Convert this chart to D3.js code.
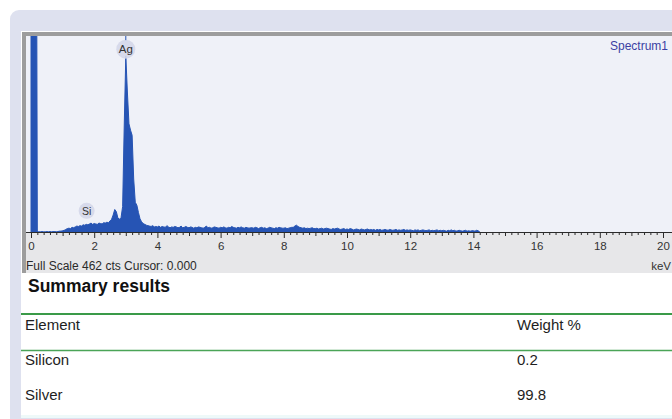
<!DOCTYPE html>
<html lang="en">
<head>
	<meta charset="UTF-8">
	<title>Spectrum1 - Summary results</title>
	<script src="https://cdn.jsdelivr.net/npm/d3@7"></script>
	<style>
		body {
			margin: 0;
			background: #fff;
		}

		svg {
			display: block;
			font-family: "Liberation Sans", Arial, sans-serif;
		}
	</style>
</head>

<body>

	<div id="chart"></div>

<script>

	// channel width of the spectrum (keV)
	var channelWidth = 0.05;

	// counts per channel, one row per keV (0.00 .. 0.95, 1.00 .. 1.95, ...)
	var counts = [
		1500, 1500, 1500, 1500, 0, 0, 0, 1, 0, 0, 1, 0, 1, 0, 1, 1, 0, 1, 2, 2,
		3, 4, 6, 8, 9, 8, 11, 10, 12, 14, 13, 15, 14, 17, 16, 18, 17, 19, 21, 18,
		20, 19, 18, 21, 20, 19, 22, 21, 23, 22, 26, 30, 40, 53, 48, 33, 30, 34, 60, 250,
		415, 330, 255, 240, 228, 125, 70, 63, 46, 31, 24, 20, 18, 16, 15, 14, 13, 15, 12, 13,
		12, 14, 11, 13, 12, 11, 15, 12, 10, 12, 11, 13, 12, 10, 11, 14, 10, 11, 13, 11,
		10, 12, 11, 9, 11, 10, 12, 11, 10, 9, 11, 14, 10, 11, 9, 10, 12, 11, 10, 9,
		11, 10, 12, 10, 9, 11, 10, 13, 11, 10, 9, 11, 10, 12, 10, 9, 11, 10, 9, 10,
		10, 9, 11, 10, 8, 10, 11, 9, 10, 8, 9, 11, 10, 9, 8, 10, 9, 11, 10, 9,
		9, 10, 8, 9, 10, 11, 11, 14, 16, 13, 11, 10, 9, 10, 8, 9, 8, 9, 10, 8,
		8, 9, 7, 8, 9, 7, 8, 9, 8, 7, 6, 8, 7, 8, 9, 7, 6, 7, 8, 6,
		7, 6, 8, 7, 5, 6, 7, 6, 5, 7, 6, 5, 6, 7, 5, 6, 5, 6, 4, 6,
		5, 6, 4, 5, 6, 5, 4, 6, 5, 4, 5, 6, 4, 5, 4, 5, 6, 4, 5, 4,
		5, 4, 3, 5, 4, 5, 3, 4, 5, 4, 3, 4, 5, 3, 4, 3, 4, 5, 3, 4,
		3, 4, 3, 2, 4, 3, 5, 3, 4, 2, 3, 4, 3, 2, 3, 4, 2, 3, 2, 3,
		3, 2, 4, 3, 0
	];

	var fullScale = 462;
	var keVMax = 20;
	var majorTicks = [0, 2, 4, 6, 8, 10, 12, 14, 16, 18, 20];

	// element markers on the spectrum
	var peakNames = ["Si", "Ag"];
	var peakKeV = [1.76, 3.0];
	var peakLabelCts = [50, 431];

	// summary table
	var tableTitle = "Summary results";
	var columns = ["Element", "Weight %"];
	var elements = ["Silicon", "Silver"];
	var weights = ["0.2", "99.8"];

	var W = 672, H = 419;
	var plotLeft = 26, plotTop = 36, axisY = 232;

	var svg = d3.select("#chart").append("svg")
		.attr("width", W)
		.attr("height", H);

	// card and frame
	svg.append("rect").attr("x", 10).attr("y", 10).attr("width", 700).attr("height", 430)
		.attr("rx", 9).attr("fill", "#dee1ef");
	svg.append("rect").attr("x", 21).attr("y", 31).attr("width", 660).attr("height", 384)
		.attr("fill", "#fff");
	svg.append("rect").attr("x", 22).attr("y", 32).attr("width", 660).attr("height", 241)
		.attr("fill", "#9d9d9d");
	svg.append("rect").attr("x", plotLeft).attr("y", plotTop).attr("width", W - plotLeft).attr("height", axisY - plotTop)
		.attr("fill", "#eff1f8");
	svg.append("rect").attr("x", plotLeft).attr("y", axisY).attr("width", W - plotLeft).attr("height", 41)
		.attr("fill", "#e7e7e9");
	svg.append("rect").attr("x", 21).attr("y", 415).attr("width", 660).attr("height", 3)
		.attr("fill", "#eef9f9");

	// scales
	var x = d3.scaleLinear().domain([0, keVMax]).range([31, 663]);
	var y = d3.scaleLinear().domain([0, fullScale]).range([axisY, plotTop]);

	svg.append("clipPath").attr("id", "plotClip")
		.append("rect").attr("x", plotLeft).attr("y", plotTop)
		.attr("width", W - plotLeft).attr("height", axisY - plotTop);

	var area = d3.area()
		.x(function (d, i) { return x(i * channelWidth); })
		.y0(y(0))
		.y1(function (d) { return y(d); });

	svg.append("path")
		.datum(counts)
		.attr("clip-path", "url(#plotClip)")
		.attr("fill", "#2654b4")
		.attr("stroke", "#2654b4")
		.attr("stroke-width", 1)
		.attr("stroke-linejoin", "round")
		.attr("d", area);

	// axis with minor ticks every 0.2 keV
	var tickValues = d3.range(0, keVMax * 5 + 1).map(function (i) { return i / 5; });
	var axis = d3.axisBottom(x)
		.tickValues(tickValues)
		.tickSize(3)
		.tickPadding(5)
		.tickFormat(function (d) {
			var r = Math.round(d * 5) / 5;
			return majorTicks.indexOf(r) >= 0 ? String(r) : "";
		});

	var gAxis = svg.append("g")
		.attr("transform", "translate(0," + axisY + ")")
		.call(axis);

	gAxis.select(".domain").attr("stroke", "#2b2b2b").attr("d", "M" + plotLeft + ",0.5H" + W);
	gAxis.selectAll(".tick line")
		.attr("stroke", "#2b2b2b")
		.attr("y2", function (d) {
			var r = Math.round(d * 5) / 5;
			if (majorTicks.indexOf(r) >= 0) return 6;
			if (Number.isInteger(r)) return 4;
			return 3;
		});
	gAxis.selectAll(".tick text")
		.attr("y", 10)
		.attr("font-size", 11.5)
		.attr("font-family", "Liberation Sans, Arial, sans-serif")
		.attr("fill", "#333");

	svg.append("text").attr("x", 671).attr("y", 270)
		.attr("text-anchor", "end").attr("font-size", 11.5).attr("fill", "#333")
		.text("keV");

	svg.append("text").attr("x", 26).attr("y", 269.5)
		.attr("font-size", 12).attr("fill", "#2a2a2a")
		.text("Full Scale " + fullScale + " cts Cursor: 0.000");

	svg.append("text").attr("x", 668).attr("y", 49.5)
		.attr("text-anchor", "end").attr("font-size", 12).attr("fill", "#3b3fa3")
		.text("Spectrum1");

	// peak markers
	var marks = svg.selectAll(".peak")
		.data(peakNames)
		.enter().append("g")
		.attr("class", "peak")
		.attr("transform", function (d, i) {
			return "translate(" + x(peakKeV[i]) + "," + y(peakLabelCts[i]) + ")";
		});

	marks.append("circle")
		.attr("r", function (d) { return d === "Ag" ? 9.5 : 8; })
		.attr("fill", "#d4d7e9")
		.attr("fill-opacity", 0.9);

	marks.append("text")
		.attr("text-anchor", "middle")
		.attr("dy", "0.36em")
		.attr("font-size", function (d) { return d === "Ag" ? 11.5 : 10.5; })
		.attr("fill", "#333")
		.text(function (d) { return d; });

	svg.append("line")
		.attr("x1", x(peakKeV[1])).attr("x2", x(peakKeV[1]))
		.attr("y1", plotTop).attr("y2", y(peakLabelCts[1]) - 9)
		.attr("stroke", "#2654b4").attr("stroke-width", 1);

	// summary table
	svg.append("text").attr("x", 28).attr("y", 292)
		.attr("font-size", 17.5).attr("font-weight", "bold").attr("fill", "#111")
		.text(tableTitle);

	svg.append("line").attr("x1", 21).attr("x2", W).attr("y1", 314).attr("y2", 314)
		.attr("stroke", "#3a9a48").attr("stroke-width", 2);
	svg.append("line").attr("x1", 21).attr("x2", W).attr("y1", 350.5).attr("y2", 350.5)
		.attr("stroke", "#4aa457").attr("stroke-width", 1.5);

	var colX = [25, 517];

	svg.selectAll(".colhead")
		.data(columns)
		.enter().append("text")
		.attr("class", "colhead")
		.attr("x", function (d, i) { return colX[i]; })
		.attr("y", 330)
		.attr("font-size", 15).attr("fill", "#1e1e1e")
		.text(function (d) { return d; });

	var rows = svg.selectAll(".row")
		.data(elements)
		.enter().append("g")
		.attr("class", "row")
		.attr("transform", function (d, i) { return "translate(0," + (365 + i * 34.5) + ")"; });

	rows.append("text").attr("x", colX[0])
		.attr("font-size", 15).attr("fill", "#1e1e1e")
		.text(function (d) { return d; });

	rows.append("text").attr("x", colX[1])
		.attr("font-size", 15).attr("fill", "#1e1e1e")
		.text(function (d, i) { return weights[i]; });

</script>
</body>

</html>
